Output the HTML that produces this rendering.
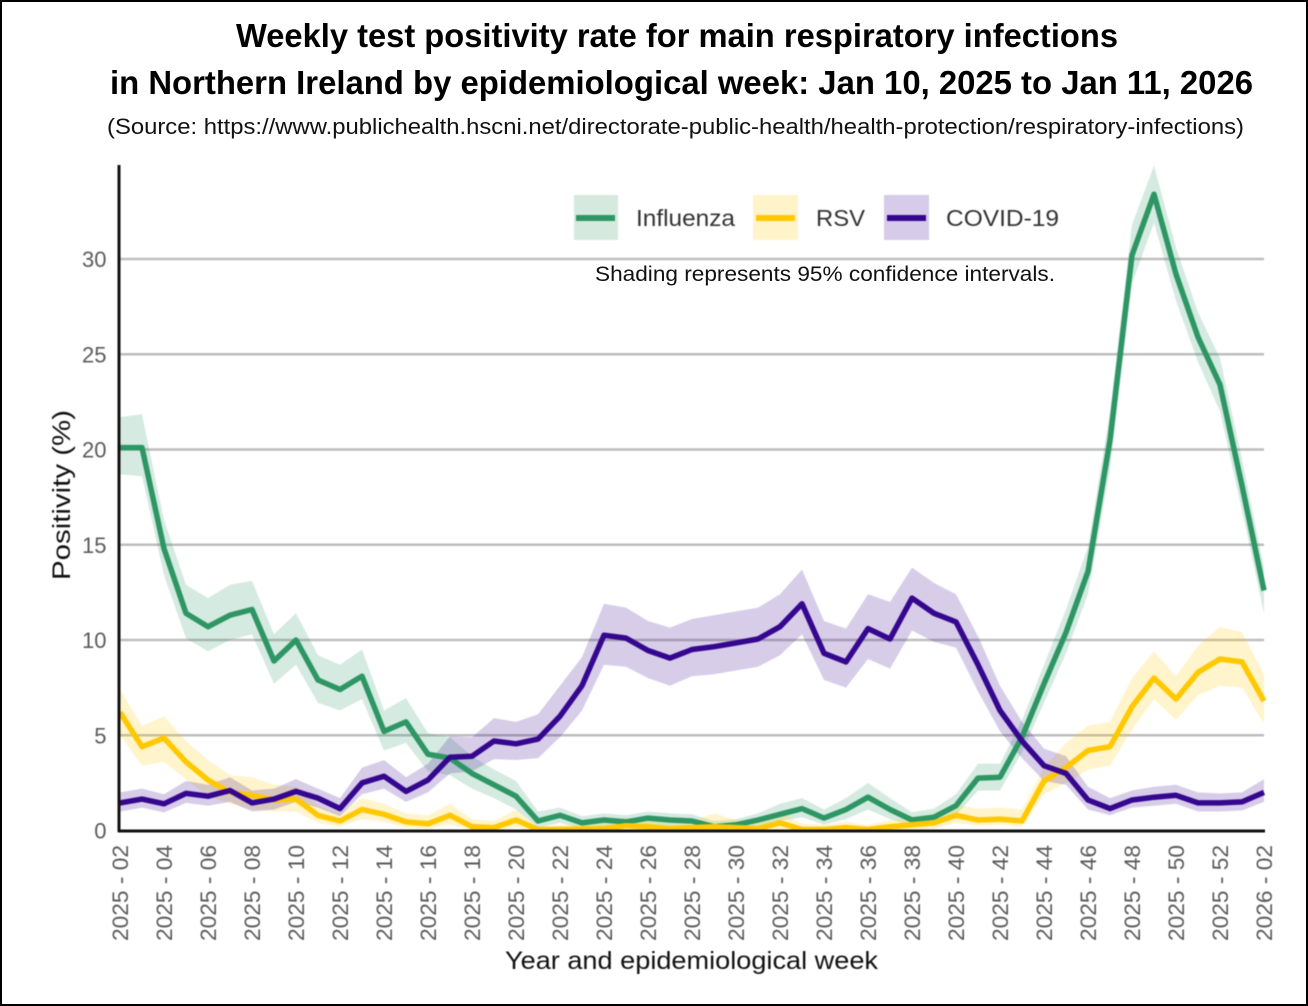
<!DOCTYPE html>
<html lang="en">
<head>
<meta charset="utf-8">
<title>Weekly test positivity rate for main respiratory infections in Northern Ireland</title>
<style>
html,body{margin:0;padding:0;background:#fff;width:1308px;height:1006px;overflow:hidden}
svg{display:block;font-family:"Liberation Sans",sans-serif}
#plot-layer{filter:blur(0.4px)}
</style>
</head>
<body>
<svg id="chart" width="1308" height="1006" viewBox="0 0 1308 1006" xmlns="http://www.w3.org/2000/svg">
  <rect x="0" y="0" width="1308" height="1006" fill="#fff"/>
  <rect x="1" y="1" width="1306" height="1004" fill="none" stroke="#000" stroke-width="2"/>
  <text x="236" y="47" font-size="33" font-weight="bold" fill="#000" textLength="882" lengthAdjust="spacingAndGlyphs">Weekly test positivity rate for main respiratory infections</text>
  <text x="110" y="94" font-size="33" font-weight="bold" fill="#000" textLength="1143" lengthAdjust="spacingAndGlyphs">in Northern Ireland by epidemiological week: Jan 10, 2025 to Jan 11, 2026</text>
  <text x="107" y="134" font-size="22" fill="#111" textLength="1137" lengthAdjust="spacingAndGlyphs">(Source: https://www.publichealth.hscni.net/directorate-public-health/health-protection/respiratory-infections)</text>
  <g id="plot-layer">
    <g id="grid"></g>
    <g id="bands"></g>
    <g id="lines"></g>
    <g id="yticks"></g>
    <g id="xticks"></g>
    <line x1="119" y1="165" x2="119" y2="832" stroke="#111" stroke-width="3"/>
    <line x1="118" y1="831" x2="1265" y2="831" stroke="#111" stroke-width="3"/>
    <text transform="rotate(-90 70 580)" x="70" y="580" font-size="25" fill="#111" textLength="170" lengthAdjust="spacingAndGlyphs">Positivity (%)</text>
    <text x="505" y="969" font-size="25" fill="#111" textLength="373" lengthAdjust="spacingAndGlyphs">Year and epidemiological week</text>
    <g>
      <g>
        <rect x="574" y="195" width="44" height="45" fill="#d6e9df"/>
        <rect x="576" y="215" width="39" height="6" fill="#2e9664"/>
        <text x="636" y="226" font-size="23" fill="#333" textLength="99" lengthAdjust="spacingAndGlyphs">Influenza</text>
      </g>
      <g>
        <rect x="753" y="195" width="45" height="45" fill="#fff3c9"/>
        <rect x="756" y="215" width="39" height="6" fill="#ffc800"/>
        <text x="816" y="226" font-size="23" fill="#333" textLength="49" lengthAdjust="spacingAndGlyphs">RSV</text>
      </g>
      <g>
        <rect x="884" y="195" width="45" height="45" fill="#d6cbe9"/>
        <rect x="887" y="215" width="39" height="6" fill="#35078f"/>
        <text x="946" y="226" font-size="23" fill="#333" textLength="113" lengthAdjust="spacingAndGlyphs">COVID-19</text>
      </g>
    </g>
  </g>
  <text x="595" y="281" font-size="21" fill="#111" textLength="460" lengthAdjust="spacingAndGlyphs">Shading represents 95% confidence intervals.</text>
</svg>
<script>
const yTickValues = [0, 5, 10, 15, 20, 25, 30];
const xLabels = ["2025 - 02","2025 - 04","2025 - 06","2025 - 08","2025 - 10","2025 - 12","2025 - 14","2025 - 16","2025 - 18","2025 - 20","2025 - 22","2025 - 24","2025 - 26","2025 - 28","2025 - 30","2025 - 32","2025 - 34","2025 - 36","2025 - 38","2025 - 40","2025 - 42","2025 - 44","2025 - 46","2025 - 48","2025 - 50","2025 - 52","2026 - 02"];

const influenza = [20.1,20.1,14.8,11.4,10.7,11.3,11.6,8.9,10.0,7.9,7.4,8.1,5.2,5.7,4.0,3.8,3.0,2.4,1.8,0.5,0.8,0.4,0.55,0.45,0.65,0.55,0.5,0.2,0.3,0.55,0.85,1.15,0.65,1.1,1.75,1.1,0.55,0.7,1.3,2.75,2.8,4.9,7.7,10.4,13.6,20.5,30.2,33.4,29.2,25.9,23.4,18.1,12.6];
const influenzaUpper = [21.7,21.85,16.3,12.9,12.2,12.9,13.1,10.3,11.4,9.2,8.7,9.5,6.3,6.95,5.1,4.9,3.9,3.2,2.6,1.0,1.2,0.75,0.9,0.8,1.0,0.9,0.85,0.5,0.6,0.9,1.4,1.7,1.1,1.7,2.5,1.7,0.95,1.15,1.9,3.5,3.5,5.8,8.7,11.6,14.9,22,31.8,34.9,30.6,27.2,24.8,19.5,13.8];
const influenzaLower = [18.7,18.6,13.4,10.1,9.4,10.0,10.3,7.7,8.7,6.7,6.3,6.9,4.2,4.6,3.1,2.9,2.2,1.7,1.1,0.15,0.4,0.1,0.2,0.15,0.3,0.25,0.2,0.05,0.05,0.25,0.5,0.7,0.3,0.6,1.1,0.6,0.25,0.35,0.8,2.1,2.1,4.1,6.7,9.3,12.4,19,28.7,31.9,27.8,24.6,22,16.8,11.4];

const rsv = [6.2,4.4,4.85,3.6,2.65,2.0,1.85,1.6,1.65,0.8,0.5,1.1,0.85,0.45,0.35,0.8,0.2,0.15,0.55,0.05,0.05,0.08,0.1,0.25,0.2,0.1,0.15,0.2,0.15,0.1,0.4,0.05,0.05,0.15,0.05,0.2,0.3,0.4,0.8,0.55,0.6,0.5,2.6,3.3,4.2,4.4,6.5,8.0,6.9,8.3,9.0,8.85,6.8];
const rsvUpper = [7.4,5.5,6.0,4.7,3.7,2.9,2.8,2.4,2.3,1.3,0.9,1.7,1.4,0.9,0.8,1.4,0.6,0.5,1.1,0.2,0.3,0.3,0.4,0.7,0.6,0.4,0.5,0.9,0.55,0.5,0.95,0.35,0.3,0.45,0.3,0.55,0.7,0.9,1.35,1.15,1.2,1.1,3.3,4.6,5.5,5.7,8.0,9.4,8.1,9.7,10.7,10.4,8.2];
const rsvLower = [5.0,3.4,3.6,2.7,1.8,1.4,1.1,1.0,1.0,0.4,0.2,0.6,0.45,0.15,0.1,0.3,0.02,0,0.15,0,0,0,0,0.02,0,0,0,0,0,0,0.05,0,0,0,0,0,0.05,0.1,0.4,0.25,0.3,0.2,1.9,2.5,3.2,3.4,5.3,6.9,5.8,7.1,7.6,7.5,5.6];

const covid = [1.45,1.65,1.4,1.95,1.8,2.1,1.45,1.65,2.05,1.7,1.15,2.5,2.85,2.05,2.65,3.85,3.9,4.7,4.55,4.8,6.0,7.6,10.25,10.1,9.45,9.05,9.5,9.65,9.85,10.05,10.7,11.9,9.3,8.85,10.6,10.05,12.2,11.4,10.95,8.7,6.3,4.7,3.4,3.0,1.6,1.15,1.6,1.75,1.85,1.45,1.45,1.5,2.0];
const covidUpper = [2.0,2.2,1.9,2.6,2.4,2.8,2.1,2.2,2.7,2.2,1.7,3.3,3.7,2.8,3.5,4.95,4.9,5.9,5.7,6.1,7.6,9.1,11.9,11.7,11.0,10.65,11.1,11.3,11.5,11.7,12.4,13.7,11.0,10.6,12.4,12.0,13.8,13.0,12.4,10.2,7.6,5.7,4.3,3.9,2.3,1.7,2.1,2.3,2.4,2.0,1.95,2.0,2.7];
const covidLower = [1.0,1.2,0.95,1.45,1.3,1.5,1.0,1.1,1.5,1.2,0.75,1.9,2.2,1.5,2.0,3.0,3.1,3.75,3.7,3.8,4.9,6.3,8.7,8.6,8.0,7.6,8.1,8.2,8.4,8.6,9.2,10.3,7.9,7.5,9.0,8.5,10.5,9.9,9.6,7.3,5.2,3.8,2.6,2.4,1.1,0.8,1.2,1.3,1.4,1.0,1.0,1.05,1.5];

const SVGNS = 'http://www.w3.org/2000/svg';
const plotLeft = 120, plotRight = 1264, yZero = 830.5, pxPerUnit = 19.05;
const weekCount = influenza.length;

function xScale(i) { return plotLeft + i * (plotRight - plotLeft) / (weekCount - 1); }
function yScale(v) { return yZero - v * pxPerUnit; }
function mk(tag, parentId) {
  const el = document.createElementNS(SVGNS, tag);
  document.getElementById(parentId).appendChild(el);
  return el;
}
function bandPath(upper, lower) {
  let d = '';
  upper.forEach((v, i) => { d += (i ? 'L' : 'M') + xScale(i).toFixed(1) + ' ' + yScale(v).toFixed(1); });
  for (let i = lower.length - 1; i >= 0; i--) { d += 'L' + xScale(i).toFixed(1) + ' ' + yScale(lower[i]).toFixed(1); }
  return d + 'Z';
}
function linePath(vals) {
  return vals.map((v, i) => (i ? 'L' : 'M') + xScale(i).toFixed(1) + ' ' + yScale(v).toFixed(1)).join('');
}

yTickValues.forEach(v => {
  if (v > 0) {
    const g = mk('line', 'grid');
    
    
    g.setAttribute('x1', plotLeft - 1);
    g.setAttribute('x2', plotRight);
    g.setAttribute('y1', yScale(v));
    g.setAttribute('y2', yScale(v));
    g.setAttribute('stroke', '#bdbdbd');
    g.setAttribute('stroke-width', '2.4');
  }
  const t = mk('text', 'yticks');
  
  
  t.setAttribute('x', 106.5);
  t.setAttribute('y', yScale(v) + 8);
  t.setAttribute('text-anchor', 'end');
  t.setAttribute('font-size', '22');
  t.setAttribute('fill', '#5a5a5a');
  t.textContent = v;
});

xLabels.forEach((label, k) => {
  const t = mk('text', 'xticks');
  const x = xScale(k * 2) + 8;
  
  
  t.setAttribute('x', x);
  t.setAttribute('y', 845);
  t.setAttribute('text-anchor', 'end');
  t.setAttribute('font-size', '22');
  t.setAttribute('fill', '#5a5a5a');
  t.setAttribute('textLength', '96');
  t.setAttribute('lengthAdjust', 'spacingAndGlyphs');
  t.setAttribute('transform', 'rotate(-90 ' + x + ' 845)');
  t.textContent = label;
});

const fluBand = mk('path', 'bands');


fluBand.setAttribute('d', bandPath(influenzaUpper, influenzaLower));
fluBand.setAttribute('fill', '#2e9664');
fluBand.setAttribute('fill-opacity', '0.2');

const rsvBand = mk('path', 'bands');


rsvBand.setAttribute('d', bandPath(rsvUpper, rsvLower));
rsvBand.setAttribute('fill', '#ffc800');
rsvBand.setAttribute('fill-opacity', '0.2');

const covidBand = mk('path', 'bands');


covidBand.setAttribute('d', bandPath(covidUpper, covidLower));
covidBand.setAttribute('fill', '#35078f');
covidBand.setAttribute('fill-opacity', '0.2');

const fluLine = mk('path', 'lines');


fluLine.setAttribute('d', linePath(influenza));
fluLine.setAttribute('fill', 'none');
fluLine.setAttribute('stroke', '#2e9664');
fluLine.setAttribute('stroke-width', '5.5');
fluLine.setAttribute('stroke-linejoin', 'round');

const rsvLine = mk('path', 'lines');


rsvLine.setAttribute('d', linePath(rsv));
rsvLine.setAttribute('fill', 'none');
rsvLine.setAttribute('stroke', '#ffc800');
rsvLine.setAttribute('stroke-width', '5.5');
rsvLine.setAttribute('stroke-linejoin', 'round');

const covidLine = mk('path', 'lines');


covidLine.setAttribute('d', linePath(covid));
covidLine.setAttribute('fill', 'none');
covidLine.setAttribute('stroke', '#35078f');
covidLine.setAttribute('stroke-width', '5.5');
covidLine.setAttribute('stroke-linejoin', 'round');
</script>
</body>
</html>
